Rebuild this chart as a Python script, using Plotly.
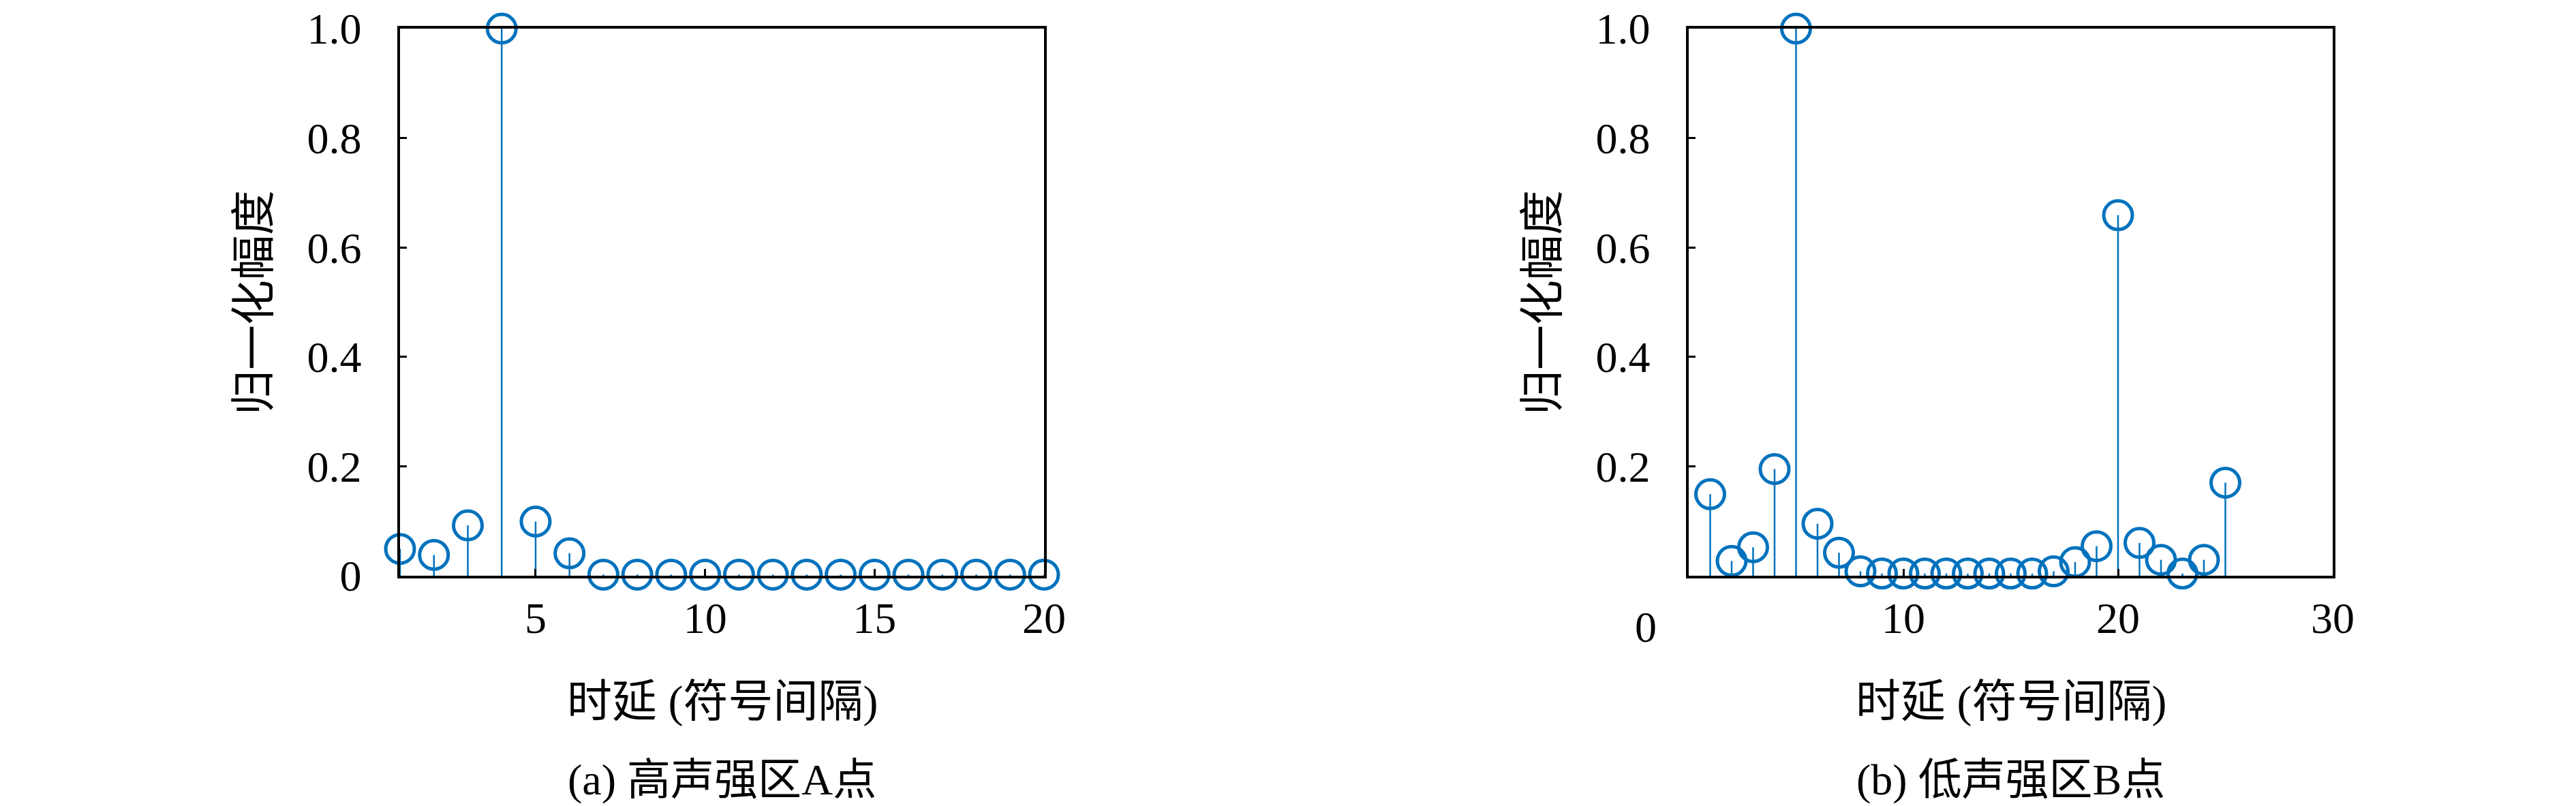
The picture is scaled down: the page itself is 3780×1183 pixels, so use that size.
import plotly.graph_objects as go

# panel (a): high sound intensity zone, point A
delay_a = list(range(1, 21))
amp_a = [0.049, 0.038, 0.092, 1.0, 0.099, 0.041, 0.002, 0.002, 0.002, 0.002,
         0.002, 0.002, 0.002, 0.002, 0.002, 0.002, 0.002, 0.002, 0.002, 0.002]

# panel (b): low sound intensity zone, point B
delay_b = list(range(1, 26))
amp_b = [0.149, 0.027, 0.052, 0.195, 1.0, 0.095, 0.042, 0.008, 0.004, 0.004,
         0.004, 0.004, 0.004, 0.004, 0.004, 0.004, 0.008, 0.025, 0.054, 0.659,
         0.060, 0.029, 0.004, 0.029, 0.170]

x_title = "时延 (符号间隔)"
y_title = "归一化幅度"
captions = ["(a) 高声强区A点", "(b) 低声强区B点"]

BLUE = "rgb(0,114,189)"
FONT = "Liberation Serif, Noto Sans CJK SC, serif"
W, H = 3780, 1183


def stem_traces(x, y, xa, ya):
    sx, sy = [], []
    for xi, yi in zip(x, y):
        sx += [xi, xi, None]
        sy += [0, yi, None]
    stems = go.Scatter(x=sx, y=sy, mode="lines", xaxis=xa, yaxis=ya,
                       line=dict(color=BLUE, width=2.5), cliponaxis=False,
                       hoverinfo="skip", showlegend=False)
    heads = go.Scatter(x=x, y=y, mode="markers", xaxis=xa, yaxis=ya,
                       marker=dict(symbol="circle-open", size=42,
                                   color=BLUE, line=dict(color=BLUE, width=5)),
                       cliponaxis=False, showlegend=False)
    return [stems, heads]


fig = go.Figure()
for t in stem_traces(delay_a, amp_a, "x", "y") + stem_traces(delay_b, amp_b, "x2", "y2"):
    fig.add_trace(t)

# axis boxes in pixel terms: left 579-1524, right 2470-3415, top 34, bottom 837
dom_a = [579 / W, 1524 / W]
dom_b = [2470 / W, 3415 / W]
dom_y = [1 - 837 / H, 1 - 34 / H]

axis_common = dict(showline=True, linecolor="black", linewidth=3.5, mirror=True,
                   ticks="inside", ticklen=10, tickwidth=2.5, tickcolor="black",
                   showgrid=False, zeroline=False, ticklabeloverflow="allow",
                   tickfont=dict(family=FONT, size=64, color="black"))

fig.update_layout(
    width=W, height=H,
    margin=dict(l=0, r=0, t=0, b=0, autoexpand=False),
    paper_bgcolor="white", plot_bgcolor="white",
    xaxis=dict(domain=dom_a, range=[1, 20], tickvals=[5, 10, 15, 20],
               anchor="y", ticklabelstandoff=3, **axis_common),
    yaxis=dict(domain=dom_y, range=[0, 1], tickvals=[0, 0.2, 0.4, 0.6, 0.8, 1.0],
               ticktext=["0", "0.2", "0.4", "0.6", "0.8", "1.0"],
               anchor="x", ticklabelstandoff=40, **axis_common),
    xaxis2=dict(domain=dom_b, range=[0, 30], tickvals=[0, 10, 20, 30],
                ticktext=["", "10", "20", "30"],
                anchor="y2", ticklabelstandoff=3, **axis_common),
    yaxis2=dict(domain=dom_y, range=[0, 1], tickvals=[0.2, 0.4, 0.6, 0.8, 1.0],
                ticktext=["0.2", "0.4", "0.6", "0.8", "1.0"],
                anchor="x2", ticklabelstandoff=40, **axis_common),
)

# the "0" tick label of panel (b) sits left of the axis corner
fig.add_annotation(x=0, y=0, xref="x2", yref="y2", text="0", showarrow=False,
                   xanchor="center", yanchor="middle", xshift=-63, yshift=-75,
                   font=dict(family=FONT, size=64, color="black"))

for dom, cap in zip([dom_a, dom_b], captions):
    xc = (dom[0] + dom[1]) / 2
    fig.add_annotation(x=xc, y=1 - 1022 / H, xref="paper", yref="paper",
                       xanchor="center", yanchor="middle",
                       text=x_title, showarrow=False,
                       font=dict(family=FONT, size=66, color="black"))
    fig.add_annotation(x=xc, y=1 - 1136 / H, xref="paper", yref="paper",
                       xanchor="center", yanchor="middle",
                       text=cap, showarrow=False,
                       font=dict(family=FONT, size=64, color="black"))
    fig.add_annotation(x=dom[0] - 215 / W, y=1 - 436 / H, xref="paper", yref="paper",
                       xanchor="center", yanchor="middle",
                       text=y_title, textangle=-90, showarrow=False,
                       font=dict(family=FONT, size=66, color="black"))

fig.write_html("out.html")
